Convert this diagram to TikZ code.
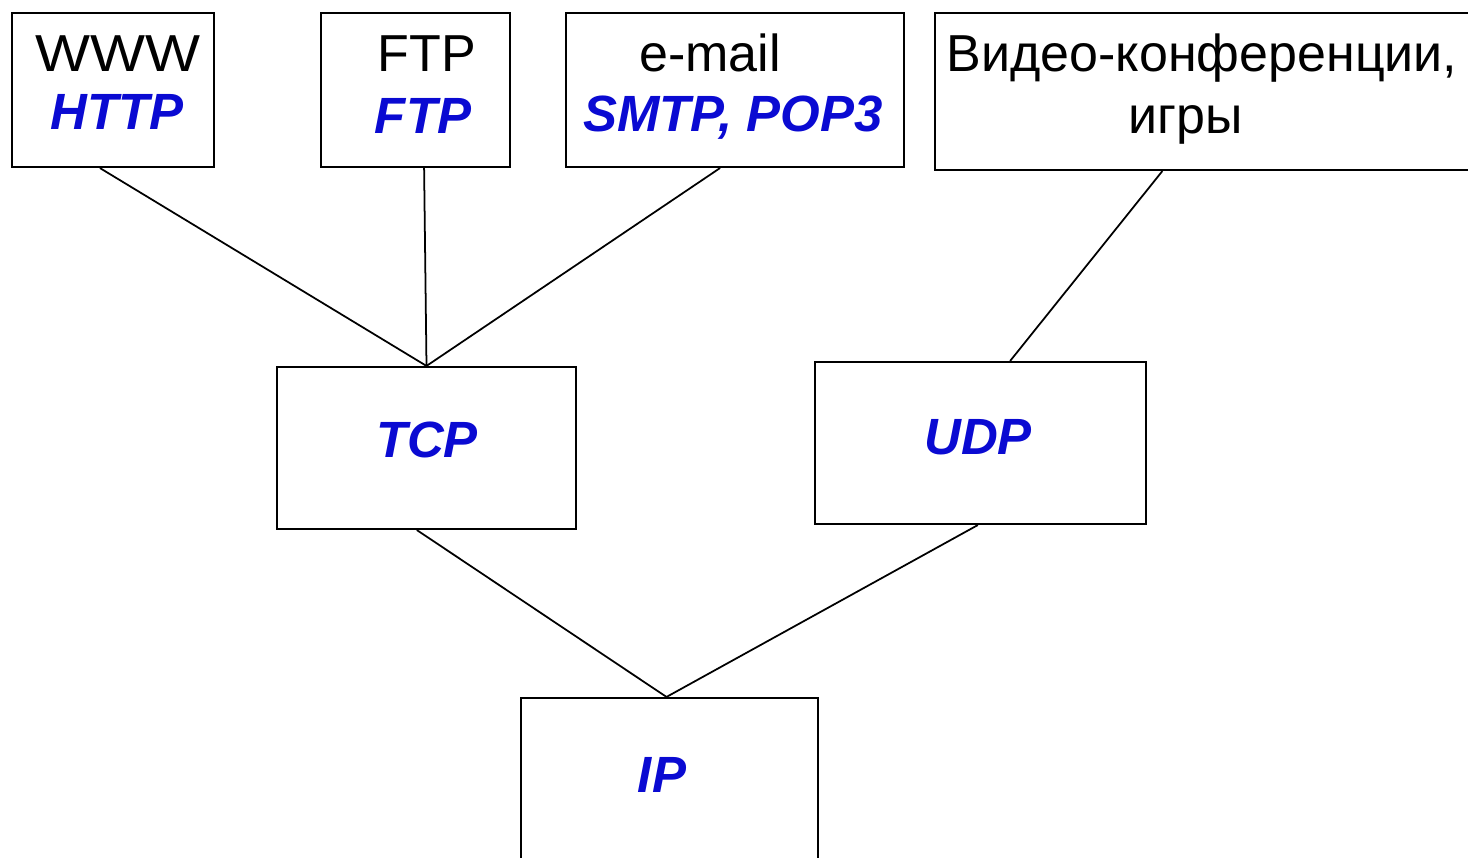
\documentclass[tikz,border=0pt]{standalone}
\usepackage{fontspec}
\setmainfont{Liberation Sans}
\usetikzlibrary{fit,calc}
\definecolor{protoblue}{RGB}{10,10,210}
\begin{document}
\begin{tikzpicture}[x=0.02cm,y=-0.02cm,
  box/.style={draw, line width=1.2pt, inner sep=0pt, fill=white},
  app/.style={anchor=base, inner sep=0pt, font=\fontsize{29.6}{32}\selectfont},
  proto/.style={anchor=base, inner sep=0pt, text=protoblue, font=\fontsize{29}{31}\selectfont\bfseries\itshape},
  link/.style={line width=1pt}]
\useasboundingbox (0,0) rectangle (1468,858);
\clip (0,0) rectangle (1468,858);
\fill[white] (0,0) rectangle (1468,858);
% boxes
\node[box, fit={(12,13) (214,167)}] (www) {};
\node[box, fit={(321,13) (510,167)}] (ftp) {};
\node[box, fit={(566,13) (904,167)}] (mail) {};
\node[box, fit={(935,13) (1490,170)}] (video) {};
\node[box, fit={(277,367) (576,529)}] (tcp) {};
\node[box, fit={(815,362) (1146,524)}] (udp) {};
\node[box, fit={(521,698) (818,880)}] (ip) {};
% texts
\node[app] (twww) at (118,72) {\scalebox{1.12}[1]{WWW}};
\node[proto] (thttp) at (117,130) {HTTP};
\node[app] (tftp) at (427,72) {FTP};
\node[proto] (tftp2) at (423,134) {FTP};
\node[app] (tmail) at (710,72) {e-mail};
\node[proto] (tsmtp) at (733,132) {SMTP, POP3};
\node[app] (tvideo) at (1202,72) {Видео-конференции,};
\node[app] (tgames) at (1186,134) {игры};
\node[proto] (ttcp) at (427,457) {TCP};
\node[proto] (tudp) at (978,454) {UDP};
\node[proto] (tip) at (662,792) {IP};
% connectors
\draw[link] ($(www.south west)!0.436!(www.south east)$) -- (tcp.north);
\draw[link] ($(ftp.south west)!0.545!(ftp.south east)$) -- (tcp.north);
\draw[link] ($(mail.south west)!0.456!(mail.south east)$) -- (tcp.north);
\draw[link] ($(video.south west)!0.41!(video.south east)$) -- ($(udp.north west)!0.589!(udp.north east)$);
\draw[link] ($(tcp.south west)!0.468!(tcp.south east)$) -- ($(ip.north west)!0.49!(ip.north east)$);
\draw[link] ($(udp.south west)!0.492!(udp.south east)$) -- ($(ip.north west)!0.49!(ip.north east)$);
\end{tikzpicture}
\end{document}
